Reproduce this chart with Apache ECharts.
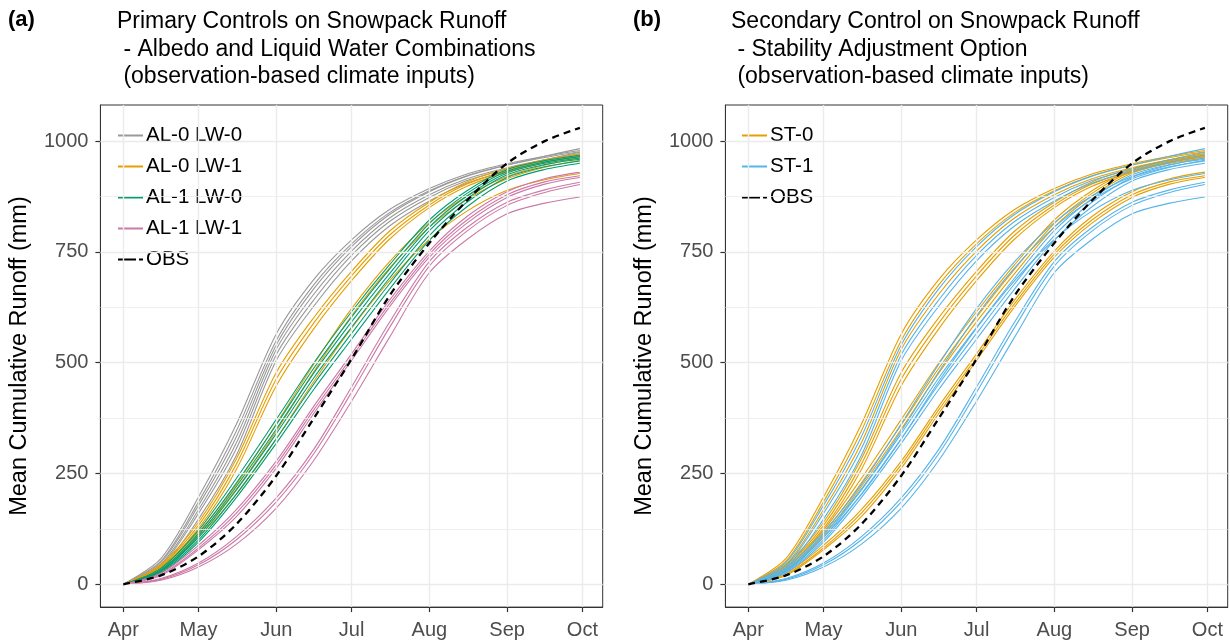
<!DOCTYPE html>
<html><head><meta charset="utf-8">
<script src="https://cdn.jsdelivr.net/npm/echarts@6/dist/echarts.min.js"></script>
<style>html,body{margin:0;padding:0;background:#fff}#c{width:1230px;height:644px}</style>
</head><body><div id="c"></div>
<script>
// ---- data ----
const monthTicks = [0, 30, 61, 91, 122, 153, 183];          // days since Apr 1
const monthLabels = ['Apr', 'May', 'Jun', 'Jul', 'Aug', 'Sep', 'Oct'];
const yTicks = [0, 250, 500, 750, 1000];
const yMinor = [125, 375, 625, 875];
const sampleDays = [0, 15, 30, 45, 61, 76, 91, 106, 122, 137, 153, 168, 182];

const obs = [0, 20, 63, 135, 245, 375, 508, 650, 770, 866, 950, 1000, 1030];

// AL-0 LW-0
const al0lw0_st0 = [
  [0, 58, 197, 360, 565, 688, 777, 845, 893, 926, 949, 966, 979],
  [0, 52, 186, 345, 550, 676, 768, 838, 888, 922, 946, 963, 976],
  [0, 45, 168, 318, 530, 655, 752, 826, 879, 915, 940, 958, 971]
];
const al0lw0_st1 = [
  [0, 49, 178, 332, 540, 667, 762, 834, 886, 921, 946, 966, 983],
  [0, 42, 160, 305, 518, 642, 742, 818, 873, 911, 937, 958, 975],
  [0, 37, 147, 290, 505, 628, 730, 808, 865, 905, 932, 952, 968]
];
// AL-0 LW-1
const al0lw1_st0 = [
  [0, 45, 140, 282, 478, 602, 706, 796, 862, 908, 938, 958, 972],
  [0, 42, 133, 270, 463, 590, 696, 787, 856, 903, 934, 955, 968],
  [0, 39, 126, 258, 448, 577, 685, 778, 850, 898, 930, 952, 965]
];
const al0lw1_st1 = [
  [0, 36, 118, 225, 362, 497, 622, 727, 816, 876, 920, 946, 962],
  [0, 33, 112, 214, 346, 480, 606, 713, 806, 868, 915, 941, 957],
  [0, 30, 106, 202, 328, 458, 578, 684, 778, 842, 889, 913, 927]
];
// AL-1 LW-0
const al1lw0_st0 = [
  [0, 36, 122, 238, 372, 500, 615, 720, 822, 888, 936, 956, 968],
  [0, 33, 115, 228, 360, 488, 603, 710, 814, 882, 932, 953, 965],
  [0, 31, 110, 220, 350, 477, 592, 700, 806, 876, 928, 950, 962]
];
const al1lw0_st1 = [
  [0, 30, 106, 212, 340, 466, 580, 690, 798, 870, 924, 947, 959],
  [0, 28, 100, 203, 328, 452, 566, 677, 787, 862, 918, 942, 955],
  [0, 26, 95, 195, 318, 440, 553, 665, 776, 852, 910, 936, 950]
];
// AL-1 LW-1
const al1lw1_st0 = [
  [0, 25, 88, 168, 278, 402, 520, 640, 752, 830, 886, 915, 930],
  [0, 22, 82, 160, 270, 394, 512, 632, 745, 822, 879, 908, 922],
  [0, 20, 78, 152, 262, 386, 505, 625, 738, 815, 873, 903, 918]
];
const al1lw1_st1 = [
  [0, 13, 48, 107, 195, 305, 445, 590, 728, 805, 862, 890, 907],
  [0, 11, 44, 100, 186, 295, 433, 578, 718, 797, 855, 884, 902],
  [0, 9, 39, 90, 172, 280, 413, 556, 703, 778, 836, 860, 874]
];

// ---- styling ----
const FONT = '"Liberation Sans", Arial, sans-serif';
const C = { g: '#999999', o: '#E69F00', gr: '#009E73', p: '#CC79A7', b: '#56B4E9' };
const groups = [
  { name: 'AL-0 LW-0', color: C.g, st0: al0lw0_st0, st1: al0lw0_st1 },
  { name: 'AL-0 LW-1', color: C.o, st0: al0lw1_st0, st1: al0lw1_st1 },
  { name: 'AL-1 LW-0', color: C.gr, st0: al1lw0_st0, st1: al1lw0_st1 },
  { name: 'AL-1 LW-1', color: C.p, st0: al1lw1_st0, st1: al1lw1_st1 }
];
const toXY = arr => sampleDays.map((d, i) => [d, arr[i]]);

const grids = [
  { left: 100.4, width: 502.3, top: 105, height: 502.1 },
  { left: 725.4, width: 502.3, top: 105, height: 502.1 }
];

function lineSeries(name, color, vals, gi, z) {
  return {
    type: 'line', name, xAxisIndex: gi, yAxisIndex: gi, data: toXY(vals),
    showSymbol: false, symbol: 'none', smooth: 0.3, silent: true, z: z || 3,
    lineStyle: { color, width: 1.1 }, itemStyle: { color }, animation: false
  };
}
function gridSeries(gi) {
  return {
    type: 'line', xAxisIndex: gi, yAxisIndex: gi, data: [], silent: true, z: 1,
    markLine: {
      symbol: 'none', silent: true, animation: false, label: { show: false },
      data: [
        ...monthTicks.map(v => ({ xAxis: v, lineStyle: { color: '#ebebeb', width: 1.4, type: 'solid' } })),
        ...yTicks.map(v => ({ yAxis: v, lineStyle: { color: '#ebebeb', width: 1.4, type: 'solid' } })),
        ...yMinor.map(v => ({ yAxis: v, lineStyle: { color: '#ebebeb', width: 0.8, type: 'solid' } }))
      ]
    }
  };
}
const series = [gridSeries(0), gridSeries(1)];
groups.forEach(g => {
  g.st0.concat(g.st1).forEach(v => series.push(lineSeries(g.name, g.color, v, 0)));
});
series.push({ ...lineSeries('OBS', '#000', obs, 0, 5), lineStyle: { color: '#000', width: 2.3, type: [7, 5] } });
groups.forEach(g => {
  g.st0.forEach(v => series.push(lineSeries('ST-0', C.o, v, 1)));
});
groups.forEach(g => {
  g.st1.forEach(v => series.push(lineSeries('ST-1', C.b, v, 1)));
});
series.push({ ...lineSeries('OBS', '#000', obs, 1, 5), lineStyle: { color: '#000', width: 2.3, type: [7, 5] } });

function xAxis(gi) {
  return {
    type: 'value', gridIndex: gi, min: -9.1, max: 191.1,
    axisLine: { show: true, onZero: false, lineStyle: { color: '#333', width: 1 } },
    axisTick: { show: true, customValues: monthTicks, length: 5, lineStyle: { color: '#333', width: 1.2 } },
    axisLabel: { customValues: monthTicks, formatter: v => monthLabels[monthTicks.indexOf(v)], margin: 13,
      fontSize: 20, color: '#4d4d4d', fontFamily: FONT },
    splitLine: { show: false }
  };
}
function yAxis(gi) {
  return {
    type: 'value', gridIndex: gi, min: -51.5, max: 1081.5,
    name: 'Mean Cumulative Runoff (mm)', nameLocation: 'middle', nameRotate: 90, nameGap: 69,
    nameTextStyle: { fontSize: 23.5, color: '#000', fontFamily: FONT },
    axisLine: { show: true, onZero: false, lineStyle: { color: '#333', width: 1 } },
    axisTick: { show: true, customValues: yTicks, length: 5, lineStyle: { color: '#333', width: 1.2 } },
    axisLabel: { customValues: yTicks, formatter: v => String(v), margin: 12, fontSize: 20, color: '#4d4d4d', fontFamily: FONT },
    splitLine: { show: false }
  };
}
const LINE_ICON = 'path://M0,0h25v2h-25z';
const DASH_ICON = 'path://M0,0h18v2h-18z M21,0h4v2h-4z';
const legendBase = {
  orient: 'vertical', itemWidth: 25, itemHeight: 2, itemGap: 10,
  textStyle: { fontSize: 20.5, lineHeight: 20, color: '#000', fontFamily: FONT, padding: [0, 0, 0, -2] },
  selectedMode: false
};
const legItem = (name, color) => ({ name, icon: name === 'OBS' ? DASH_ICON : LINE_ICON, itemStyle: { color } });
const option = {
  animation: false,
  backgroundColor: '#fff',
  title: [
    { text: '(a)', left: 3, top: 4, textStyle: { fontSize: 22, fontWeight: 'bold', color: '#000', fontFamily: FONT } },
    { text: 'Primary Controls on Snowpack Runoff\n - Albedo and Liquid Water Combinations\n (observation-based climate inputs)',
      left: 112, top: 3, textStyle: { fontSize: 23, fontWeight: 'normal', lineHeight: 27.5, color: '#000', fontFamily: FONT } },
    { text: '(b)', left: 628, top: 4, textStyle: { fontSize: 22, fontWeight: 'bold', color: '#000', fontFamily: FONT } },
    { text: 'Secondary Control on Snowpack Runoff\n - Stability Adjustment Option\n (observation-based climate inputs)',
      left: 726, top: 3, textStyle: { fontSize: 23, fontWeight: 'normal', lineHeight: 27.5, color: '#000', fontFamily: FONT } }
  ],
  legend: [
    { ...legendBase, left: 113, top: 120,
      data: [legItem('AL-0 LW-0', C.g), legItem('AL-0 LW-1', C.o), legItem('AL-1 LW-0', C.gr), legItem('AL-1 LW-1', C.p), legItem('OBS', '#000')] },
    { ...legendBase, left: 737, top: 120,
      data: [legItem('ST-0', C.o), legItem('ST-1', C.b), legItem('OBS', '#000')] }
  ],
  grid: grids.map(g => ({ ...g, show: true, borderColor: '#333', borderWidth: 1, backgroundColor: '#fff' })),
  xAxis: [xAxis(0), xAxis(1)],
  yAxis: [yAxis(0), yAxis(1)],
  series
};
const chart = echarts.init(document.getElementById('c'), null, { renderer: 'canvas' });
chart.setOption(option);
</script>
</body></html>
